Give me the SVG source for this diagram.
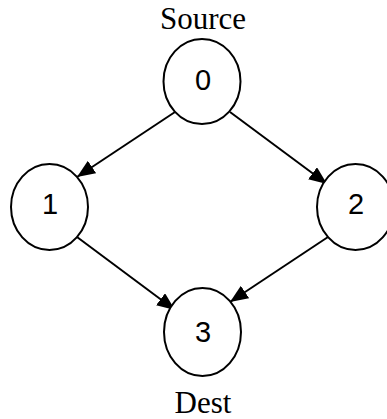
<svg xmlns="http://www.w3.org/2000/svg" width="387" height="419" viewBox="0 0 387 419">
<style>
.node ellipse{fill:#fff;stroke:#000;stroke-width:2}
.node text{font-family:"Liberation Sans",Arial,sans-serif;font-size:29px;text-anchor:middle;fill:#000}
.lbl{font-family:"Liberation Serif","Times New Roman",serif;font-size:31px;text-anchor:middle;fill:#000}
.edge{stroke:#000;stroke-width:2;fill:none;marker-end:url(#arr)}
</style>
<defs>
<marker id="arr" viewBox="0 0 18 15" refX="18" refY="7.5" markerWidth="18" markerHeight="15" markerUnits="userSpaceOnUse" orient="auto">
<path d="M0,0 L18,7.5 L0,15 z" fill="#000"/>
</marker>
</defs>
<rect width="387" height="419" fill="#fff"/>
<g id="connectors">
<line class="edge" x1="175" y1="112" x2="77" y2="177"/>
<line class="edge" x1="230" y1="112" x2="327" y2="184"/>
<line class="edge" x1="77" y1="237" x2="175" y2="310"/>
<line class="edge" x1="328" y1="237" x2="230" y2="302"/>
</g>
<g id="node0" class="node"><ellipse cx="202" cy="81.5" rx="38.5" ry="42.5"/><text x="203" y="90">0</text></g>
<g id="node1" class="node"><ellipse cx="49.5" cy="207" rx="38.5" ry="43"/><text x="50" y="214">1</text></g>
<g id="node2" class="node"><ellipse cx="355.5" cy="207" rx="38.5" ry="43"/><text x="356" y="214">2</text></g>
<g id="node3" class="node"><ellipse cx="202.5" cy="332" rx="38.5" ry="44"/><text x="203" y="342">3</text></g>
<text id="source" class="lbl" x="203" y="29">Source</text>
<text id="dest" class="lbl" x="203" y="413">Dest</text>
</svg>
